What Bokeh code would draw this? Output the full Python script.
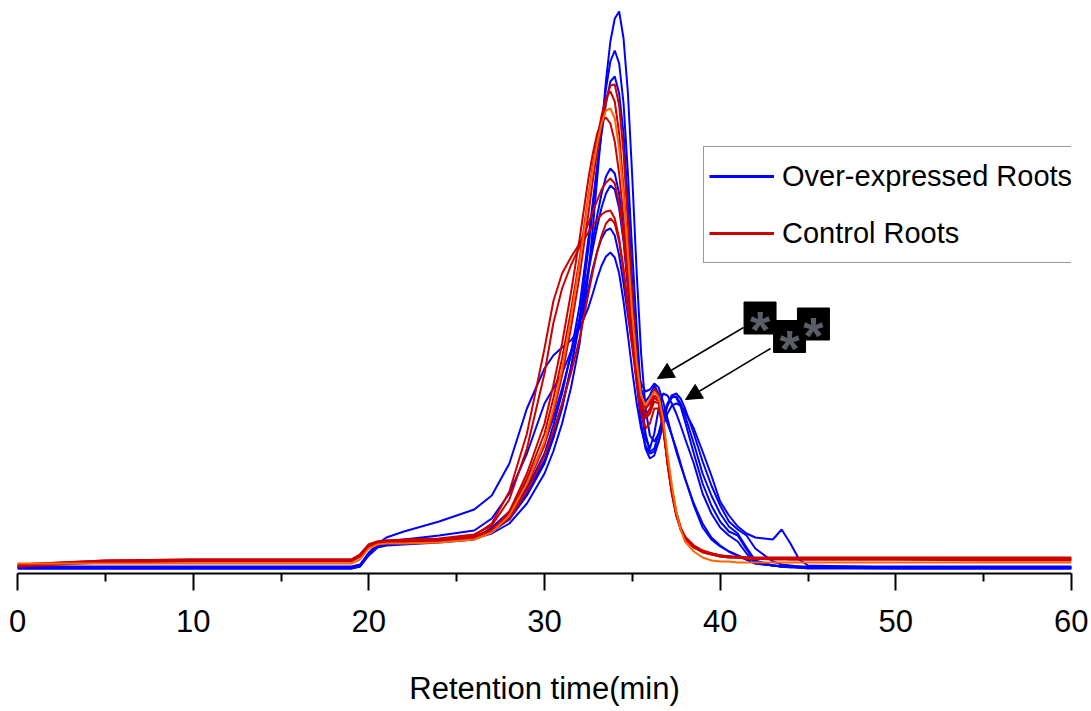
from bokeh.plotting import figure
from bokeh.models import Range1d, FixedTicker, Legend, LegendItem, Arrow, NormalHead
from bokeh.core.properties import value
from bokeh.embed import file_html
from bokeh.resources import INLINE

# ---------------- data (retention time in min, detector signal in arbitrary units) -------------
t_min = [0, 5, 10, 15, 19.0, 19.5, 20.0, 20.5, 21, 22, 24, 26, 27, 28, 29, 30, 30.5, 31, 31.5,
         32, 32.5, 32.75, 33, 33.25, 33.5, 33.75, 34, 34.25, 34.5, 34.75, 35, 35.25, 35.5, 35.75,
         36, 36.25, 36.5, 36.75, 37, 37.25, 37.5, 37.75, 38, 38.5, 39, 39.5, 40, 40.5, 41, 41.5,
         42, 43, 43.5, 44, 44.5, 45, 50, 55, 60]

blue_1 = [6, 6, 6, 6, 6, 8, 19, 27, 29, 30, 32, 35,
          40, 50, 70, 100, 122, 150, 185,
          230, 300, 345, 395, 445, 493,
          532, 555, 562, 535, 480, 395,
          300, 220, 165, 138, 132, 140,
          155, 168, 176, 177, 170, 158,
          130, 100, 78, 60, 47, 40, 26, 13,
          8, 7, 7, 6, 6, 6, 6, 6]
blue_2 = [5, 5, 5, 5, 5, 7, 18, 26, 28, 29, 31, 34,
          42, 54, 78, 110, 135, 165, 205,
          255, 325, 365, 405, 445, 485,
          512, 523, 510, 470, 400, 320,
          245, 180, 140, 122, 125, 140,
          158, 170, 178, 176, 167, 152,
          120, 90, 68, 52, 42, 38, 24, 12,
          8, 7, 6, 6, 5, 5, 5, 5]
blue_3 = [7, 7, 7, 7, 7, 9, 21, 29, 31, 32, 34, 37,
          44, 58, 85, 120, 148, 180, 220,
          268, 335, 372, 408, 440, 470,
          492, 497, 480, 440, 370, 290,
          220, 165, 135, 125, 140, 165,
          180, 178, 170, 160, 148, 135,
          110, 80, 60, 46, 38, 32, 20, 11,
          8, 7, 7, 7, 7, 7, 7, 7]
blue_4 = [6, 6, 6, 6, 6, 8, 20, 28, 30, 31, 33, 36,
          42, 55, 80, 113, 138, 168, 205,
          250, 305, 333, 358, 380, 397,
          405, 400, 380, 345, 300, 255,
          215, 185, 172, 178, 188, 180,
          163, 150, 138, 125, 110, 95,
          68, 46, 34, 27, 22, 18, 14, 10,
          8, 7, 7, 6, 6, 6, 6, 6]
blue_5 = [5, 5, 5, 5, 5, 7, 19, 27, 29, 30, 32, 35,
          46, 62, 92, 130, 155, 185, 218,
          255, 302, 325, 347, 366, 380,
          388, 384, 365, 332, 285, 235,
          190, 150, 125, 115, 118, 132,
          152, 168, 178, 180, 175, 165,
          140, 112, 88, 68, 52, 44, 38, 25,
          12, 9, 8, 7, 6, 5, 5, 5]
blue_6 = [6, 6, 6, 6, 6, 8, 20, 29, 32, 34, 38, 43,
          55, 80, 120, 170, 185, 200, 222,
          250, 285, 305, 322, 335, 343,
          345, 338, 318, 290, 258, 228,
          205, 190, 182, 184, 190, 186,
          172, 155, 138, 122, 108, 95,
          70, 50, 36, 28, 22, 18, 14, 10,
          8, 7, 7, 6, 6, 6, 6, 6]
blue_7 = [6, 6, 6, 6, 6, 8, 20, 30, 36, 42, 52, 64,
          78, 110, 165, 205, 218, 226, 233,
          245, 266, 280, 295, 308, 317,
          321, 316, 300, 272, 238, 202,
          170, 145, 128, 120, 122, 132,
          148, 160, 168, 170, 168, 162,
          145, 122, 98, 72, 58, 47, 40, 36,
          34, 44, 30, 14, 8, 6, 6, 6]

red_1 = [8, 12, 13, 13, 13, 18, 28, 31, 32, 32, 33, 36,
         43, 57, 88, 128, 160, 198, 245,
         298, 360, 393, 422, 448, 472,
         488, 489, 468, 420, 350, 275,
         215, 178, 165, 172, 185, 178,
         150, 110, 80, 58, 44, 35,
         26, 22, 20, 18, 17, 16, 16, 15,
         15, 15, 15, 15, 15, 15, 14, 14]
red_2 = [9, 13, 14, 14, 14, 19, 29, 32, 33, 33, 34, 37,
         44, 60, 95, 140, 175, 215, 262,
         315, 378, 408, 435, 458, 476,
         482, 472, 440, 385, 318, 252,
         200, 170, 158, 165, 178, 175,
         150, 112, 82, 60, 45, 36,
         27, 22, 20, 18, 17, 17, 16, 16,
         16, 16, 16, 16, 16, 16, 16, 16]
red_3 = [7, 11, 12, 12, 12, 17, 27, 30, 31, 31, 32, 35,
         43, 62, 100, 150, 188, 230, 280,
         335, 395, 420, 440, 452, 456,
         450, 432, 400, 355, 300, 245,
         200, 170, 155, 160, 172, 170,
         148, 112, 82, 60, 45, 36,
         28, 23, 20, 18, 17, 16, 15, 15,
         14, 14, 14, 14, 14, 14, 13, 13]
red_4 = [8, 12, 13, 13, 13, 18, 28, 31, 32, 33, 34, 38,
         50, 82, 140, 225, 272, 300, 316,
         330, 350, 362, 373, 384, 391,
         395, 390, 370, 335, 290, 245,
         205, 178, 165, 170, 183, 178,
         152, 115, 85, 62, 46, 37,
         28, 23, 20, 18, 17, 16, 16, 15,
         15, 15, 15, 15, 15, 15, 15, 15]
red_5 = [9, 13, 14, 14, 14, 19, 29, 32, 33, 34, 35, 39,
         48, 74, 125, 200, 250, 285, 308,
         327, 341, 348, 354, 359, 362,
         363, 355, 335, 305, 268, 230,
         195, 170, 158, 163, 176, 172,
         148, 112, 83, 60, 45, 36,
         27, 22, 19, 17, 16, 16, 15, 15,
         15, 15, 15, 15, 15, 15, 15, 15]
red_6 = [8, 12, 13, 13, 13, 17, 27, 30, 31, 31, 32, 35,
         42, 55, 82, 118, 142, 170, 200,
         235, 280, 302, 322, 338, 350,
         355, 350, 332, 302, 262, 225,
         190, 160, 145, 150, 165, 165,
         145, 110, 80, 58, 44, 35,
         26, 21, 19, 17, 16, 16, 15, 15,
         15, 15, 14, 14, 14, 14, 14, 14]
orange_1 = [10, 10, 10, 10, 10, 14, 25, 29, 30, 30, 31, 34,
            41, 58, 90, 132, 165, 205, 255,
            310, 375, 405, 430, 450, 463,
            465, 455, 425, 378, 318, 258,
            210, 178, 168, 175, 182, 176,
            155, 120, 88, 62, 44, 32,
            22, 16, 13, 12, 12, 11, 11, 11,
            11, 11, 11, 11, 11, 11, 11, 11]

x_ticks = [0, 10, 20, 30, 40, 50, 60]
x_minor_ticks = [5, 15, 25, 35, 45, 55]
legend_labels = ["Over-expressed Roots", "Control Roots"]
x_label = "Retention time(min)"

# significance markers (asterisk boxes) and arrows
star_x = [42.27, 43.95, 45.31]
star_y = [255.5, 237.0, 249.5]
arrow_x_start = [41.33, 42.87]
arrow_y_start = [246.0, 225.0]
arrow_x_end = [36.43, 38.03]
arrow_y_end = [195.0, 174.0]

# off-range proxy coordinates used only for legend swatches
proxy_x = [-10, -9]
proxy_y = [-10, -10]

BLUE = "#0000FF"
RED = "#CC0000"
ORANGE = "#FF6600"
FONT = "Liberation Sans"

p = figure(width=1088, height=708, x_range=Range1d(0, 60), y_range=Range1d(0, 573),
           output_backend="svg", toolbar_location=None,
           min_border_left=17, min_border_right=17, min_border_top=0, min_border_bottom=135)
p.yaxis.visible = False
p.grid.visible = False
p.outline_line_color = None
p.background_fill_color = "white"
p.border_fill_color = "white"

for ys in [blue_1, blue_2, blue_3, blue_4, blue_5, blue_6, blue_7]:
    p.line(t_min, ys, line_color=BLUE, line_width=2)
for ys in [red_1, red_2, red_3, red_4, red_5, red_6]:
    p.line(t_min, ys, line_color=RED, line_width=2)
p.line(t_min, orange_1, line_color=ORANGE, line_width=2)

# legend proxies (drawn outside the visible range)
leg_blue = p.line(proxy_x, proxy_y, line_color=BLUE, line_width=3)
leg_red = p.line(proxy_x, proxy_y, line_color=RED, line_width=3)

# asterisk boxes
p.scatter(star_x, star_y, marker="square", size=32, fill_color="black", line_color="black")
p.text(star_x, star_y, text=["*", "*", "*"], text_font=value("Liberation Sans"),
       text_font_size="52px", text_font_style="bold", text_color="#5a5e66",
       text_align="center", text_baseline="middle", y_offset=12)

for xs, ys, xe, ye in zip(arrow_x_start, arrow_y_start, arrow_x_end, arrow_y_end):
    p.add_layout(Arrow(end=NormalHead(size=16, fill_color="black", line_color="black"),
                       x_start=xs, y_start=ys, x_end=xe, y_end=ye,
                       line_color="black", line_width=1.5))

ax = p.xaxis[0]
ax.ticker = FixedTicker(ticks=x_ticks, minor_ticks=x_minor_ticks)
ax.axis_label = x_label
ax.axis_label_text_font = FONT
ax.axis_label_text_font_size = "31px"
ax.axis_label_text_font_style = "normal"
ax.axis_label_text_color = "black"
ax.axis_label_standoff = 36
ax.major_label_text_font = FONT
ax.major_label_text_font_size = "31px"
ax.major_label_text_color = "black"
ax.major_label_standoff = 19
ax.axis_line_width = 2
ax.axis_line_color = "black"
ax.major_tick_out = 17
ax.major_tick_in = 0
ax.minor_tick_out = 8
ax.minor_tick_in = 0
ax.major_tick_line_width = 2
ax.minor_tick_line_width = 2
ax.major_tick_line_color = "black"
ax.minor_tick_line_color = "black"

legend = Legend(items=[LegendItem(label=legend_labels[0], renderers=[leg_blue]),
                       LegendItem(label=legend_labels[1], renderers=[leg_red])],
                location=(686, 310), orientation="vertical")
legend.label_text_font = FONT
legend.label_text_font_size = "29px"
legend.label_text_color = "black"
legend.label_text_baseline = "middle"
legend.glyph_width = 65
legend.glyph_height = 48
legend.label_height = 48
legend.label_standoff = 8
legend.spacing = 9
legend.padding = 5
legend.margin = 0
legend.border_line_color = "#333333"
legend.border_line_width = 1.5
legend.background_fill_color = "white"
legend.background_fill_alpha = 1.0
p.add_layout(legend, "center")

open("out.html", "w").write(file_html(p, INLINE))
